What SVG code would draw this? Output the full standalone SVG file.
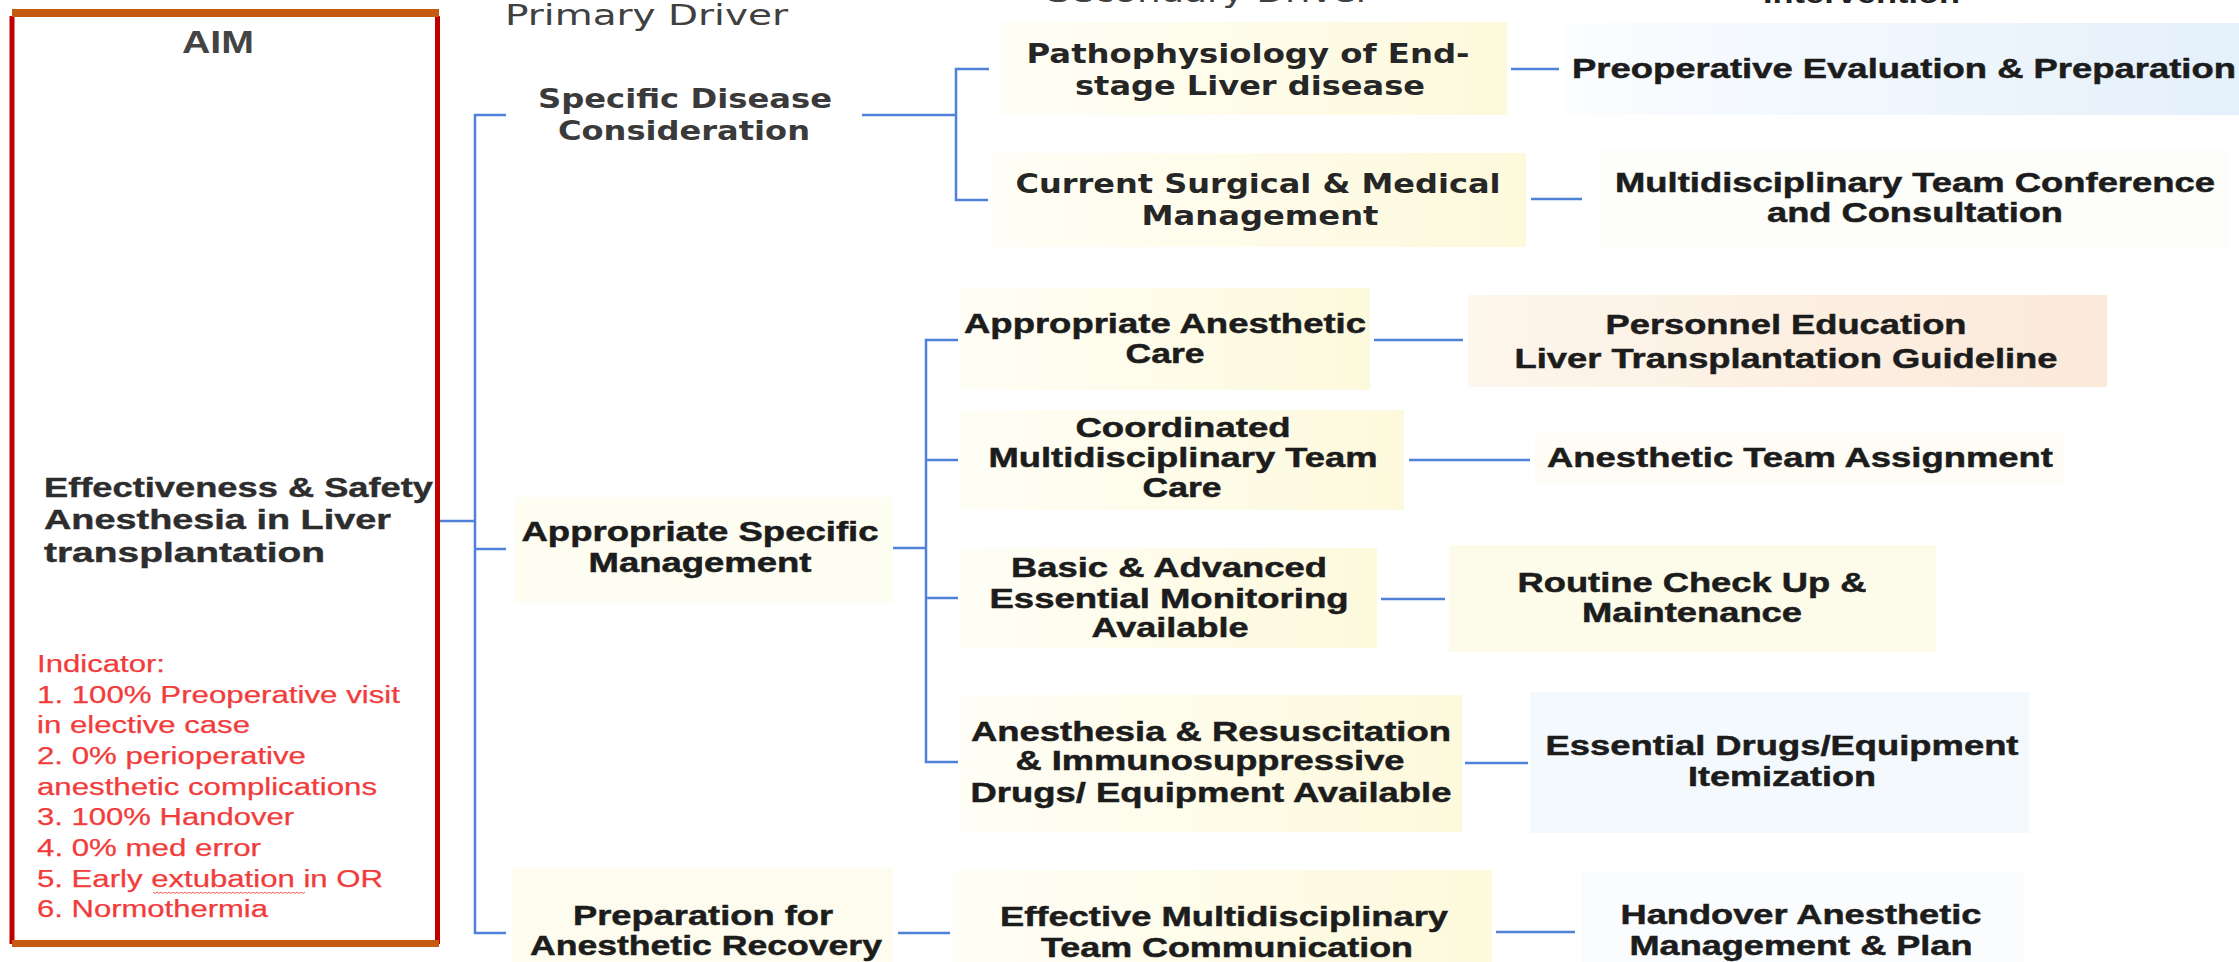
<svg xmlns="http://www.w3.org/2000/svg" width="2239" height="962" viewBox="0 0 2239 962">
  <style>
    .hd { font-family: "DejaVu Sans", Verdana, sans-serif; font-size: 29px; fill: #404040; }
    .hdb { font-family: "Liberation Sans", Arial, sans-serif; font-weight: bold; font-size: 28px; fill: #222; }
    .aim { font-family: "Liberation Sans", Arial, sans-serif; font-weight: bold; font-size: 32px; fill: #444; text-anchor: middle; }
    .goal { font-family: "Liberation Sans", Arial, sans-serif; font-weight: bold; font-size: 27px; fill: #2d2d2d; stroke: #2d2d2d; stroke-width: 0.4; }
    .ind { font-family: "Liberation Sans", Arial, sans-serif; font-size: 23px; fill: #f23c3c; stroke: #f23c3c; stroke-width: 0.25; }
    .tah { font-family: "DejaVu Sans", Verdana, sans-serif; font-weight: bold; font-size: 27px; fill: #262626; text-anchor: middle; }
    .tahg { font-family: "DejaVu Sans", Verdana, sans-serif; font-weight: bold; font-size: 27px; fill: #3a3a3a; text-anchor: middle; }
    .nb { font-family: "Liberation Sans", Arial, sans-serif; font-weight: bold; font-size: 28px; fill: #1c1c1c; stroke: #1c1c1c; stroke-width: 0.5; text-anchor: middle; }
    .link { fill: none; stroke: #4f81d9; stroke-width: 2.5; }
    .red { fill: #c00000; }
    .orange { fill: #c55a11; }
  </style>
  <defs>
    <linearGradient id="yel" x1="0" y1="0" x2="1" y2="0">
      <stop offset="0" stop-color="#fffef6"/>
      <stop offset="1" stop-color="#fdf9dc"/>
    </linearGradient>
    <linearGradient id="blu" x1="0" y1="0" x2="1" y2="0">
      <stop offset="0" stop-color="#fbfdff"/>
      <stop offset="1" stop-color="#e4f0fb"/>
    </linearGradient>
    <linearGradient id="pch" x1="0" y1="0" x2="1" y2="0">
      <stop offset="0" stop-color="#fdf6ec"/>
      <stop offset="1" stop-color="#fbe9d9"/>
    </linearGradient>
  </defs>

  <rect width="2239" height="962" fill="#ffffff"/>

  <!-- column headers (clipped at the top edge) -->
  <g id="headers">
    <text class="hd" x="505" y="25" textLength="283" lengthAdjust="spacingAndGlyphs">Primary Driver</text>
    <text class="hd" x="1047" y="2" textLength="324" lengthAdjust="spacingAndGlyphs" fill="#333">Secondary Driver</text>
    <text class="hdb" x="1763" y="3" textLength="197" lengthAdjust="spacingAndGlyphs">Intervention</text>
  </g>

  <!-- aim box -->
  <g id="aim">
    <rect class="red" x="9.5" y="16" width="5" height="928"/>
    <rect class="red" x="435" y="16" width="5" height="928"/>
    <rect class="orange" x="12" y="9" width="427" height="8"/>
    <rect class="orange" x="12" y="940" width="427" height="7"/>
    <text class="aim" x="218" y="53" textLength="72" lengthAdjust="spacingAndGlyphs">AIM</text>
    <text class="goal" x="44" y="497" textLength="389" lengthAdjust="spacingAndGlyphs">Effectiveness &amp; Safety</text>
    <text class="goal" x="44" y="529" textLength="347" lengthAdjust="spacingAndGlyphs">Anesthesia in Liver</text>
    <text class="goal" x="44" y="562" textLength="281" lengthAdjust="spacingAndGlyphs">transplantation</text>
    <text class="ind" x="37" y="672" textLength="128" lengthAdjust="spacingAndGlyphs">Indicator:</text>
    <text class="ind" x="37" y="703" textLength="363" lengthAdjust="spacingAndGlyphs">1. 100% Preoperative visit</text>
    <text class="ind" x="37" y="733" textLength="213" lengthAdjust="spacingAndGlyphs">in elective case</text>
    <text class="ind" x="37" y="764" textLength="269" lengthAdjust="spacingAndGlyphs">2. 0% perioperative</text>
    <text class="ind" x="37" y="795" textLength="340" lengthAdjust="spacingAndGlyphs">anesthetic complications</text>
    <text class="ind" x="37" y="825" textLength="257" lengthAdjust="spacingAndGlyphs">3. 100% Handover</text>
    <text class="ind" x="37" y="856" textLength="224" lengthAdjust="spacingAndGlyphs">4. 0% med error</text>
    <text class="ind" x="37" y="887" textLength="346" lengthAdjust="spacingAndGlyphs">5. Early extubation in OR</text>
    <text class="ind" x="37" y="917" textLength="231" lengthAdjust="spacingAndGlyphs">6. Normothermia</text>
    <!-- spell-check squiggle under "extubation" -->
    <path d="M153 892 l2 1.5 l2 -1.5 l2 1.5 l2 -1.5 l2 1.5 l2 -1.5 l2 1.5 l2 -1.5 l2 1.5 l2 -1.5 l2 1.5 l2 -1.5 l2 1.5 l2 -1.5 l2 1.5 l2 -1.5 l2 1.5 l2 -1.5 l2 1.5 l2 -1.5 l2 1.5 l2 -1.5 l2 1.5 l2 -1.5 l2 1.5 l2 -1.5 l2 1.5 l2 -1.5 l2 1.5 l2 -1.5 l2 1.5 l2 -1.5 l2 1.5 l2 -1.5 l2 1.5 l2 -1.5 l2 1.5 l2 -1.5 l2 1.5 l2 -1.5 l2 1.5 l2 -1.5 l2 1.5 l2 -1.5 l2 1.5 l2 -1.5 l2 1.5 l2 -1.5 l2 1.5 l2 -1.5 l2 1.5 l2 -1.5 l2 1.5 l2 -1.5 l2 1.5 l2 -1.5 l2 1.5 l2 -1.5 l2 1.5 l2 -1.5 l2 1.5 l2 -1.5 l2 1.5 l2 -1.5 l2 1.5 l2 -1.5 l2 1.5 l2 -1.5 l2 1.5 l2 -1.5 l2 1.5 l2 -1.5 l2 1.5 l2 -1.5 l2 1.5 l2 -1.5" fill="none" stroke="#f06060" stroke-width="1"/>
  </g>

  <!-- connectors -->
  <g id="connectors" class="link">
    <path class="link" d="M440 521 H475"/>
    <path class="link" d="M506 115 H475 V933 H506"/>
    <path class="link" d="M475 549 H506"/>
    <path class="link" d="M862 115 H956"/>
    <path class="link" d="M989 69 H956 V200 H988"/>
    <path class="link" d="M1511 69 H1559"/>
    <path class="link" d="M1531 199 H1582"/>
    <path class="link" d="M893 548 H926"/>
    <path class="link" d="M958 340 H926 V762 H958"/>
    <path class="link" d="M926 460 H958"/>
    <path class="link" d="M926 598 H958"/>
    <path class="link" d="M1374 340 H1463"/>
    <path class="link" d="M1409 460 H1530"/>
    <path class="link" d="M1381 599 H1445"/>
    <path class="link" d="M1465 763 H1528"/>
    <path class="link" d="M898 933 H950"/>
    <path class="link" d="M1496 932 H1575"/>
  </g>

  <!-- primary drivers -->
  <g id="pd-disease">
    <text class="tahg" x="685" y="108" textLength="294" lengthAdjust="spacingAndGlyphs">Specific Disease</text>
    <text class="tahg" x="684" y="140" textLength="252" lengthAdjust="spacingAndGlyphs">Consideration</text>
  </g>
  <g id="pd-management">
    <rect x="515" y="497" width="377" height="106" fill="#fefdf2"/>
    <text class="nb" x="700" y="541" textLength="357" lengthAdjust="spacingAndGlyphs">Appropriate Specific</text>
    <text class="nb" x="700" y="572" textLength="223" lengthAdjust="spacingAndGlyphs">Management</text>
  </g>
  <g id="pd-recovery">
    <rect x="512" y="868" width="381" height="94" fill="#fdfcee"/>
    <text class="nb" x="703" y="925" textLength="260" lengthAdjust="spacingAndGlyphs">Preparation for</text>
    <text class="nb" x="706" y="955" textLength="352" lengthAdjust="spacingAndGlyphs">Anesthetic Recovery</text>
  </g>

  <!-- secondary drivers -->
  <g id="sd-patho">
    <rect x="1000" y="22" width="507" height="93" fill="url(#yel)"/>
    <text class="tah" x="1248" y="63" textLength="443" lengthAdjust="spacingAndGlyphs">Pathophysiology of End-</text>
    <text class="tah" x="1250" y="95" textLength="350" lengthAdjust="spacingAndGlyphs">stage Liver disease</text>
  </g>
  <g id="sd-current">
    <rect x="992" y="153" width="534" height="94" fill="url(#yel)"/>
    <text class="tah" x="1258" y="193" textLength="485" lengthAdjust="spacingAndGlyphs">Current Surgical &amp; Medical</text>
    <text class="tah" x="1260" y="225" textLength="237" lengthAdjust="spacingAndGlyphs">Management</text>
  </g>
  <g id="sd-care">
    <rect x="960" y="288" width="410" height="102" fill="url(#yel)"/>
    <text class="nb" x="1165" y="333" textLength="402" lengthAdjust="spacingAndGlyphs">Appropriate Anesthetic</text>
    <text class="nb" x="1165" y="363" textLength="79" lengthAdjust="spacingAndGlyphs">Care</text>
  </g>
  <g id="sd-coord">
    <rect x="960" y="410" width="444" height="100" fill="url(#yel)"/>
    <text class="nb" x="1183" y="437" textLength="215" lengthAdjust="spacingAndGlyphs">Coordinated</text>
    <text class="nb" x="1183" y="467" textLength="389" lengthAdjust="spacingAndGlyphs">Multidisciplinary Team</text>
    <text class="nb" x="1182" y="497" textLength="79" lengthAdjust="spacingAndGlyphs">Care</text>
  </g>
  <g id="sd-monitor">
    <rect x="960" y="548" width="417" height="100" fill="url(#yel)"/>
    <text class="nb" x="1169" y="577" textLength="316" lengthAdjust="spacingAndGlyphs">Basic &amp; Advanced</text>
    <text class="nb" x="1169" y="608" textLength="359" lengthAdjust="spacingAndGlyphs">Essential Monitoring</text>
    <text class="nb" x="1170" y="637" textLength="157" lengthAdjust="spacingAndGlyphs">Available</text>
  </g>
  <g id="sd-drugs">
    <rect x="960" y="695" width="502" height="137" fill="url(#yel)"/>
    <text class="nb" x="1211" y="741" textLength="480" lengthAdjust="spacingAndGlyphs">Anesthesia &amp; Resuscitation</text>
    <text class="nb" x="1210" y="770" textLength="389" lengthAdjust="spacingAndGlyphs">&amp; Immunosuppressive</text>
    <text class="nb" x="1211" y="802" textLength="481" lengthAdjust="spacingAndGlyphs">Drugs/ Equipment Available</text>
  </g>
  <g id="sd-comm">
    <rect x="953" y="870" width="539" height="92" fill="url(#yel)"/>
    <text class="nb" x="1224" y="926" textLength="448" lengthAdjust="spacingAndGlyphs">Effective Multidisciplinary</text>
    <text class="nb" x="1227" y="957" textLength="372" lengthAdjust="spacingAndGlyphs">Team Communication</text>
  </g>

  <!-- interventions -->
  <g id="iv-preop">
    <rect x="1564" y="23" width="675" height="92" fill="url(#blu)"/>
    <text class="nb" x="1904" y="78" textLength="664" lengthAdjust="spacingAndGlyphs">Preoperative Evaluation &amp; Preparation</text>
  </g>
  <g id="iv-mdt">
    <rect x="1600" y="150" width="630" height="98" fill="#fdfdfa"/>
    <text class="nb" x="1915" y="192" textLength="600" lengthAdjust="spacingAndGlyphs">Multidisciplinary Team Conference</text>
    <text class="nb" x="1915" y="222" textLength="296" lengthAdjust="spacingAndGlyphs">and Consultation</text>
  </g>
  <g id="iv-edu">
    <rect x="1468" y="295" width="639" height="92" fill="url(#pch)"/>
    <text class="nb" x="1786" y="334" textLength="361" lengthAdjust="spacingAndGlyphs">Personnel Education</text>
    <text class="nb" x="1786" y="368" textLength="543" lengthAdjust="spacingAndGlyphs">Liver Transplantation Guideline</text>
  </g>
  <g id="iv-team">
    <rect x="1535" y="433" width="529" height="50" fill="#fefcf4"/>
    <text class="nb" x="1800" y="467" textLength="506" lengthAdjust="spacingAndGlyphs">Anesthetic Team Assignment</text>
  </g>
  <g id="iv-check">
    <rect x="1449" y="545" width="487" height="107" fill="#fdfbe9"/>
    <text class="nb" x="1692" y="592" textLength="349" lengthAdjust="spacingAndGlyphs">Routine Check Up &amp;</text>
    <text class="nb" x="1692" y="622" textLength="220" lengthAdjust="spacingAndGlyphs">Maintenance</text>
  </g>
  <g id="iv-itemize">
    <rect x="1530" y="692" width="499" height="141" fill="#f4f9fd"/>
    <text class="nb" x="1782" y="755" textLength="473" lengthAdjust="spacingAndGlyphs">Essential Drugs/Equipment</text>
    <text class="nb" x="1782" y="786" textLength="188" lengthAdjust="spacingAndGlyphs">Itemization</text>
  </g>
  <g id="iv-handover">
    <rect x="1581" y="872" width="443" height="90" fill="#fafcfe"/>
    <text class="nb" x="1801" y="924" textLength="361" lengthAdjust="spacingAndGlyphs">Handover Anesthetic</text>
    <text class="nb" x="1801" y="955" textLength="343" lengthAdjust="spacingAndGlyphs">Management &amp; Plan</text>
  </g>
</svg>
